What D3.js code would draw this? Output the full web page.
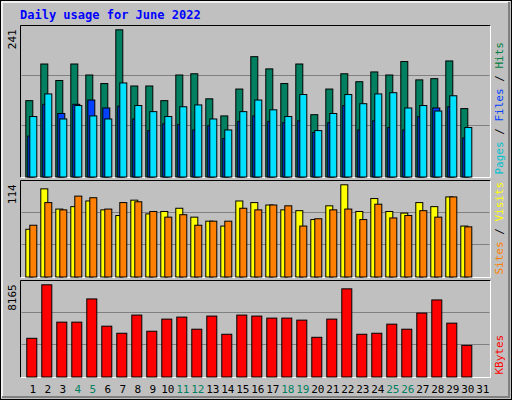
<!DOCTYPE html>
<html><head><meta charset="utf-8">
<script src="https://cdn.jsdelivr.net/npm/d3@7"></script>
<style>body{margin:0;background:#fff}svg{display:block}</style>
</head><body>
<svg id="chart" width="512" height="400"></svg>
<script>
// daily values, June 2022
var days = d3.range(1, 32);
var weekend = [4, 5, 11, 12, 18, 19, 25, 26];
var hits = [125,185,158,185,167,153,241,149,149,125,167,169,128,100,144,197,177,153,185,102,144,169,156,172,167,189,159,161,190,112];
var files = [67,119,104,119,126,113,116,95,76,87,86,77,84,63,91,100,91,89,92,73,89,117,77,92,81,77,99,113,115,64];
var pages = [99,136,95,117,100,95,154,117,107,99,115,118,95,77,107,126,110,99,135,76,104,135,120,136,138,113,117,108,133,81];
var visits = [59,109,84,87,94,83,76,95,78,81,85,74,69,63,94,92,89,83,82,71,88,114,81,97,81,79,92,87,99,63];
var sites = [64,92,83,100,98,84,92,93,81,74,77,64,69,69,85,83,89,88,63,72,83,84,71,90,73,76,82,74,99,62];
var kbytes = [3427,8165,4857,4857,6913,4500,3874,5483,4053,5126,5304,4232,5394,3785,5483,5394,5215,5215,5036,3516,5126,7807,3785,3874,4679,4232,5662,6824,4768,2801];

var svg = d3.select('#chart');
var font = "'DejaVu Sans Mono', monospace";

// frame
svg.append('rect').attr('x', 0.5).attr('y', 0.5).attr('width', 511).attr('height', 399)
	.attr('fill', '#c0c0c0').attr('stroke', '#000');
svg.append('path').attr('d', 'M2,398V2H510').attr('stroke', '#fff').attr('fill', 'none').attr('stroke-width', 1.5);
svg.append('path').attr('d', 'M2,397H509V2').attr('stroke', '#808080').attr('fill', 'none').attr('stroke-width', 2);

svg.append('text').attr('x', 20).attr('y', 19).text('Daily usage for June 2022')
	.attr('font-family', font).attr('font-weight', 'bold').attr('font-size', 12).attr('fill', '#0000ff');

var x = d3.scaleLinear().domain([1, 2]).range([25.3, 40.3]);
var left = 20.5, right = 490.5;

function panel(top, bottom, maxTop, max, label, legend) {
	svg.append('rect').attr('x', left).attr('y', top).attr('width', right - left).attr('height', bottom - top)
		.attr('fill', '#c0c0c0');
	svg.append('path').attr('d', 'M' + left + ',' + bottom + 'V' + top + 'H' + right).attr('stroke', '#000').attr('fill', 'none');
	svg.append('path').attr('d', 'M' + left + ',' + bottom + 'H' + right + 'V' + top).attr('stroke', '#fff').attr('fill', 'none');
	var base = bottom - 1;
	var y = d3.scaleLinear().domain([0, max]).range([base, maxTop]);
	var h = base - top;
	[0.34, 0.67].forEach(function (f) {
		svg.append('line').attr('x1', left + 1).attr('x2', right - 1)
			.attr('y1', Math.round(base - h * f) + 0.5).attr('y2', Math.round(base - h * f) + 0.5)
			.attr('stroke', '#808080').attr('stroke-width', 1);
	});
	svg.append('text').attr('transform', 'translate(16,' + maxTop + ') rotate(-90)')
		.attr('text-anchor', 'end').attr('font-family', font).attr('font-size', 11).text(label);
	var t = svg.append('text').attr('transform', 'translate(503,' + (bottom - 3) + ') rotate(-90)')
		.attr('font-family', font).attr('font-size', 11);
	legend.forEach(function (l, i) {
		if (i) t.append('tspan').attr('fill', '#000').text(' / ');
		t.append('tspan').attr('fill', l[1]).text(l[0]);
	});
	return y;
}

function bars(y, data, off, w, color) {
	svg.append('g').selectAll('rect').data(data).join('rect')
		.attr('x', function (d, i) { return x(i + 1) + off + 0.5; })
		.attr('y', function (d) { return y(d) + 0.5; })
		.attr('width', w)
		.attr('height', function (d) { return y(0) - y(d); })
		.attr('fill', color).attr('stroke', '#000').attr('stroke-width', 1);
}

var y1 = panel(25.5, 177.5, 29.3, 241, '241', [['Pages', '#00c0d0'], ['Files', '#0040ff'], ['Hits', '#008040']]);
bars(y1, hits, 0, 7, '#008060');
bars(y1, files, 2, 7, '#0040ff');
bars(y1, pages, 4, 7, '#00e0ff');

var y2 = panel(180.5, 277.5, 184.3, 114, '114', [['Sites', '#ff8000'], ['Visits', '#ffff00']]);
bars(y2, visits, 0, 7, '#ffff00');
bars(y2, sites, 4, 7, '#ff8000');

var y3 = panel(280.5, 377.5, 284.3, 8165, '8165', [['KBytes', '#ff0000']]);
bars(y3, kbytes, 1, 10, '#ff0000');

svg.append('g').selectAll('text').data(days).join('text')
	.attr('x', function (d) { return x(d) + 7.5; })
	.attr('y', 393)
	.attr('text-anchor', 'middle').attr('font-family', font).attr('font-size', 11)
	.attr('fill', function (d) { return weekend.indexOf(d) >= 0 ? '#008060' : '#000'; })
	.text(function (d) { return d; });
</script>
</body></html>
